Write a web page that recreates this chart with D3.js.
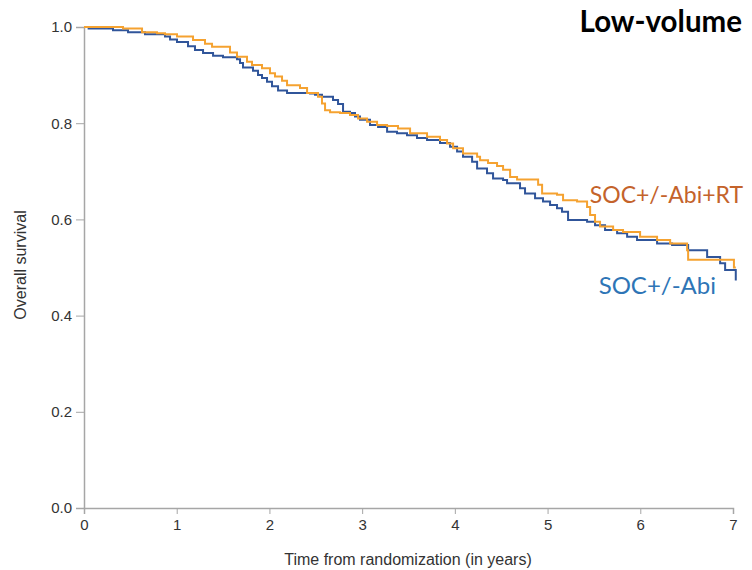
<!DOCTYPE html>
<html>
<head>
<meta charset="utf-8">
<script src="https://cdn.jsdelivr.net/npm/d3@7"></script>
<style>
  body { margin: 0; background: #fff; }
  svg { display: block; }
  .axis path, .axis line { stroke: #a6a6a6; }
  .axis text { fill: #333; font-family: "Liberation Sans", Arial, sans-serif; font-size: 15px; }
</style>
</head>
<body>
<svg id="chart" width="752" height="570"></svg>
<script>
// Kaplan-Meier curves: [years, survival]
const abiRT = [
  [0, 1.0], [0.421, 0.997], [0.626, 0.989], [0.787, 0.987], [0.874, 0.985], [1.003, 0.980],
  [1.176, 0.973], [1.305, 0.965], [1.381, 0.959], [1.575, 0.947], [1.650, 0.938], [1.758, 0.928],
  [1.812, 0.921], [1.920, 0.914], [2.006, 0.904], [2.060, 0.897], [2.136, 0.888], [2.190, 0.879],
  [2.330, 0.873], [2.406, 0.863], [2.524, 0.855], [2.567, 0.841], [2.600, 0.827], [2.654, 0.823],
  [2.762, 0.821], [2.869, 0.817], [2.956, 0.810], [3.053, 0.803], [3.161, 0.796], [3.269, 0.794],
  [3.387, 0.789], [3.517, 0.779], [3.700, 0.772], [3.840, 0.765], [3.916, 0.758], [3.981, 0.748],
  [4.088, 0.737], [4.240, 0.730], [4.272, 0.723], [4.358, 0.717], [4.455, 0.711], [4.520, 0.703],
  [4.596, 0.688], [4.671, 0.683], [4.898, 0.672], [4.941, 0.654], [5.102, 0.651], [5.167, 0.640],
  [5.318, 0.637], [5.426, 0.626], [5.459, 0.609], [5.512, 0.595], [5.566, 0.585], [5.707, 0.578],
  [5.814, 0.574], [5.998, 0.564], [6.181, 0.557], [6.322, 0.550], [6.505, 0.536], [6.516, 0.516],
  [7.010, 0.500], [7.030, 0.500]
];
const abi = [
  [0, 1.0], [0.05, 0.997], [0.313, 0.993], [0.475, 0.989], [0.658, 0.985], [0.874, 0.980],
  [0.928, 0.974], [1.003, 0.969], [1.122, 0.960], [1.197, 0.952], [1.284, 0.946], [1.392, 0.940],
  [1.499, 0.937], [1.650, 0.933], [1.683, 0.925], [1.715, 0.916], [1.823, 0.909], [1.877, 0.900],
  [1.920, 0.894], [1.974, 0.886], [2.028, 0.877], [2.093, 0.868], [2.190, 0.863], [2.438, 0.862],
  [2.492, 0.859], [2.567, 0.855], [2.686, 0.848], [2.740, 0.840], [2.794, 0.824], [2.869, 0.821],
  [2.923, 0.814], [2.977, 0.807], [3.085, 0.796], [3.172, 0.792], [3.269, 0.782], [3.376, 0.779],
  [3.484, 0.775], [3.592, 0.769], [3.700, 0.765], [3.840, 0.759], [3.948, 0.751], [4.024, 0.741],
  [4.088, 0.730], [4.186, 0.720], [4.240, 0.706], [4.347, 0.696], [4.412, 0.685], [4.520, 0.682],
  [4.563, 0.675], [4.703, 0.665], [4.757, 0.654], [4.865, 0.644], [4.951, 0.637], [5.027, 0.630],
  [5.102, 0.623], [5.156, 0.616], [5.221, 0.599], [5.426, 0.595], [5.512, 0.588], [5.620, 0.578],
  [5.750, 0.571], [5.858, 0.564], [5.965, 0.557], [6.181, 0.550], [6.343, 0.547], [6.516, 0.536],
  [6.721, 0.522], [6.861, 0.509], [6.915, 0.495], [7.030, 0.473]
];
const xTicks = [0, 1, 2, 3, 4, 5, 6, 7];
const yTicks = [0, 0.2, 0.4, 0.6, 0.8, 1.0];

const svg = d3.select("#chart");
const x = d3.scaleLinear().domain([0, 7]).range([84, 733]);
const y = d3.scaleLinear().domain([0, 1]).range([508, 27]);

// ejes
svg.append("g")
  .attr("class", "axis")
  .attr("transform", "translate(0,508)")
  .call(d3.axisBottom(x).tickValues(xTicks).tickSizeOuter(0).tickSize(6).tickPadding(5).tickFormat(d3.format("d")));

svg.append("g")
  .attr("class", "axis")
  .attr("transform", "translate(84,0)")
  .call(d3.axisLeft(y).tickValues(yTicks).tickSizeOuter(0).tickSize(8).tickPadding(4).tickFormat(d3.format(".1f")));

svg.selectAll(".axis .domain").attr("stroke", "#a6a6a6").attr("stroke-width", 1.5);

// curvas escalonadas
const line = d3.line()
  .x(d => x(d[0]))
  .y(d => y(d[1]))
  .curve(d3.curveStepAfter);

svg.append("path")
  .datum(abi)
  .attr("d", line)
  .attr("fill", "none")
  .attr("stroke", "#30559a")
  .attr("stroke-width", 2);

svg.append("path")
  .datum(abiRT)
  .attr("d", line)
  .attr("fill", "none")
  .attr("stroke", "#f5a230")
  .attr("stroke-width", 2);

// titulos de ejes
svg.append("text")
  .attr("transform", "translate(26,265) rotate(-90)")
  .attr("text-anchor", "middle")
  .attr("font-family", "Liberation Sans, Arial, sans-serif")
  .attr("font-size", 16)
  .attr("fill", "#333")
  .text("Overall survival");

svg.append("text")
  .attr("x", 408)
  .attr("y", 565)
  .attr("text-anchor", "middle")
  .attr("font-family", "Liberation Sans, Arial, sans-serif")
  .attr("font-size", 16)
  .attr("fill", "#333")
  .text("Time from randomization (in years)");

// etiquetas
svg.append("text")
  .attr("x", 742)
  .attr("y", 32)
  .attr("text-anchor", "end")
  .attr("font-family", "Lato, sans-serif")
  .attr("font-weight", "bold")
  .attr("font-size", 29.5)
  .attr("fill", "#000")
  .text("Low-volume");

svg.append("text")
  .attr("x", 743)
  .attr("y", 203)
  .attr("text-anchor", "end")
  .attr("font-family", "Lato, sans-serif")
  .attr("font-size", 23)
  .attr("fill", "#c4632b")
  .text("SOC+/-Abi+RT");

svg.append("text")
  .attr("x", 716)
  .attr("y", 294)
  .attr("text-anchor", "end")
  .attr("font-family", "Lato, sans-serif")
  .attr("font-size", 24)
  .attr("fill", "#2e75b6")
  .text("SOC+/-Abi");
</script>
</body>
</html>
